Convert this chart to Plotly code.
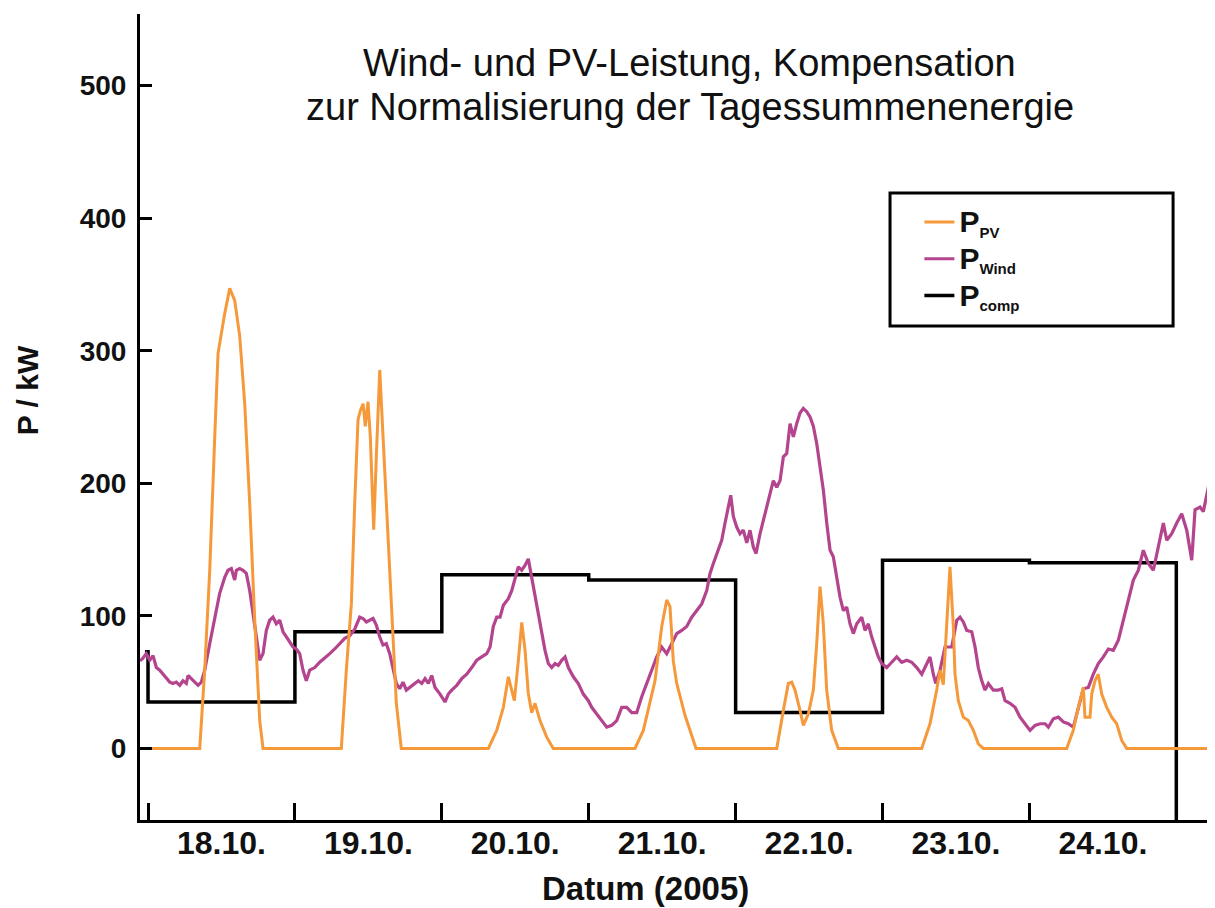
import plotly.graph_objects as go

# ---------------- data (hours since 18.10.2005 00:00, kW) ----------------
pv_hours = [-1.31, 8.45, 9.26, 10.08, 10.90, 11.44, 12.53, 13.35, 14.16, 14.98, 15.80, 16.61, 17.43, 18.25, 18.79,
            31.58, 32.40, 33.22, 33.77, 34.31, 34.70, 35.14, 35.50, 35.94, 36.32, 36.87, 37.30, 37.86, 38.40, 38.93, 39.75, 40.57, 41.38,
            55.60, 56.97, 58.05, 58.87, 59.85, 60.50, 61.06, 61.60, 62.13, 62.69, 63.22, 64.04, 65.14, 66.21,
            79.56, 80.92, 82.01, 82.83, 83.93, 84.74, 85.28, 85.82, 86.38, 87.73, 89.53,
            102.72, 103.80, 104.61, 105.17, 105.70, 106.52, 107.06, 107.88, 108.70, 109.25, 109.79, 110.33, 110.88, 111.70, 112.78,
            126.40, 127.76, 128.85, 129.39, 129.93, 130.49, 131.02, 131.57, 131.84, 132.38, 133.20, 134.02, 134.84, 135.65, 136.47,
            150.09, 151.17, 151.99, 152.81, 153.08, 153.90, 154.18, 154.71, 155.25, 155.81, 156.63, 157.45, 158.26, 159.08, 159.89,
            173.50, 174.32]
pv_kw = [0, 0, 59, 134, 235, 298, 328, 347, 338, 311, 260, 185, 97, 21, 0,
         0, 59, 109, 185, 248, 255, 260, 243, 261.5, 235, 165, 220, 285.5, 235, 185, 109, 34, 0,
         0, 13.6, 31, 54, 36, 66, 95, 74, 41.5, 27, 34, 21, 8.5, 0,
         0, 13.6, 36, 51, 92, 112, 107, 66, 49, 25, 0,
         0, 28.7, 49, 50, 44, 28.7, 17.4, 26, 44, 79, 122, 94, 44, 13.6, 0,
         0, 18.6, 44, 59, 48, 94, 137, 92, 56, 36, 23.6, 21, 13.6, 3.5, 0,
         0, 13.6, 31, 46, 23.6, 23.6, 41, 51, 56, 41, 31, 23.6, 18.6, 6, 0,
         0, 2]

wind_hours = [-1.31, -0.82, -0.28, 0.28, 0.82, 1.36, 1.91, 2.45, 2.99, 3.55, 4.08, 4.62, 5.18, 5.72, 6.26, 6.54, 7.07, 7.63,
              8.17, 8.71, 9.26, 10.08, 10.90, 11.71, 12.53, 13.07, 13.61, 14.16, 14.43, 14.98, 15.52, 16.06, 16.62, 17.15,
              17.69, 18.25, 18.79, 19.33, 19.88, 20.42, 20.96, 21.52, 22.06, 22.60, 23.15, 23.69, 24.23, 24.78, 25.32, 25.86,
              26.42, 27.24, 28.05, 28.87, 29.69, 30.50, 31.32, 32.14, 32.95, 33.77, 34.59, 35.13, 35.67, 36.22, 36.76, 37.30,
              37.86, 38.39, 38.93, 39.49, 40.03, 40.57, 41.12, 41.66, 42.20, 42.76,
              43.62, 44.16, 44.72, 45.26, 45.80, 46.35, 46.89, 47.71, 48.52, 49.06, 49.62, 50.44, 51.25, 52.07, 52.89, 53.70,
              54.52, 55.34, 55.88, 56.41, 56.97, 57.51, 58.05, 58.87, 59.42, 59.96, 60.50, 61.05, 61.59, 62.13, 62.69, 63.23,
              63.77, 64.32, 64.86, 65.40, 65.96, 66.50, 67.03, 67.59, 68.13, 68.67, 69.49, 70.30, 71.12, 71.94, 72.49, 73.31,
              74.12, 74.94, 75.76, 76.58, 77.39, 78.21, 79.03, 79.84, 80.66, 81.48, 82.29, 83.11, 83.93, 84.74, 85.56, 86.38,
              87.19, 88.01, 88.83, 89.65, 90.46, 91.28, 91.82, 92.36, 93.18, 93.73, 94.27, 94.81, 95.20, 95.63, 96.18, 96.72,
              97.26, 97.82, 98.35, 98.89, 99.34, 99.99, 100.81, 101.62, 102.16, 102.72, 103.26, 103.80, 104.35, 104.89, 105.43,
              105.98, 106.52, 107.06, 107.62, 108.16, 108.70, 109.25, 109.79, 110.33, 110.89, 111.43, 111.96, 112.52, 113.06,
              113.60, 114.15, 114.69, 115.23, 115.79, 116.60, 117.14, 117.68, 118.24, 118.78, 119.32, 119.87, 120.69, 121.50,
              122.32, 123.14, 123.96, 124.77, 125.59, 126.41, 127.22, 127.76, 128.30, 128.69, 129.40, 130.21, 131.31, 132.13,
              132.66, 133.20, 133.76, 134.57, 135.12, 135.65, 136.21, 136.75, 137.29, 138.10, 138.92, 139.48, 140.02, 140.83,
              141.65, 142.47, 143.28, 144.10, 144.92, 145.74, 146.55, 147.09, 147.91, 148.72, 149.54, 150.36, 151.18, 151.99,
              152.81, 153.63, 154.44, 155.26, 156.08, 156.89, 157.71, 158.53, 159.34, 160.16, 160.98, 161.80, 162.61, 163.43,
              164.25, 165.06, 165.88, 166.44, 167.25, 168.07, 168.88, 169.70, 170.52, 171.06, 171.87, 172.41, 173.23, 173.78,
              174.32]
wind_kw = [66, 68, 71.5, 66.5, 70, 61, 59, 56, 52.6, 50, 49, 50, 47.6, 51, 49, 55, 52.6, 50,
           47.6, 50, 59, 79, 96.7, 117, 129, 134.4, 135.7, 127, 134.4, 135.7, 134.4, 132, 119, 101.7,
           84, 66.5, 71.5, 89, 96.7, 99, 94, 96.7, 88, 84, 80, 76.5, 75, 71.5, 59, 51,
           59, 61, 65, 68, 71.5, 75, 79, 83, 85, 90, 99, 98, 95.4, 96.7, 98, 93,
           84, 78, 79, 71.5, 59, 49, 45, 50, 44, 46,
           49, 51, 49, 52.6, 49, 55, 46, 41, 35, 41, 44, 47.6, 52.6, 56, 61, 66.5,
           69, 71.5, 76.5, 92, 99, 99, 108, 113, 119, 127, 137, 134.4, 138, 143, 129, 114,
           99, 86.6, 74, 64, 61, 64, 62.7, 66.5, 69, 61, 54, 49, 41, 36, 31, 26,
           21, 16, 17.4, 21, 31, 31, 27, 27, 39, 49, 59, 69, 76.5, 71.5, 79, 86.6,
           89, 92, 99, 104, 109, 119, 132, 139.5, 149.5, 157, 170, 182, 191, 175, 167, 162,
           164.6, 155, 164.6, 152, 147, 162, 177, 192, 202, 197, 202, 220, 222.5, 245, 235,
           245, 253, 256.5, 254, 250, 243, 230, 212.5, 195, 170, 149.5, 144.5, 129, 114,
           104, 106.6, 94, 86.6, 94, 99, 89, 94, 84, 76.5, 69, 64, 61, 65,
           69, 65, 66.5, 65, 61, 56, 64, 69, 56, 49, 59, 76.5, 76.5, 96.7,
           99, 95.4, 89, 88, 76.5, 61, 51, 44, 49, 44, 44, 45, 36, 34,
           31, 23.6, 18.6, 13.6, 17.4, 18.6, 18.6, 16, 22.4, 23.6, 20, 18.6, 16, 31,
           45, 46, 56, 64, 69, 75, 74, 81.6, 96.7, 112, 127, 134.4, 149.5, 139.5,
           134.4, 152, 170, 157, 162, 170, 177, 164.6, 142, 180, 182, 178.6, 197, 202,
           210]

comp_hours = [-0.5, 0, 24, 48, 72, 96, 120, 144, 168]
comp_kw = [73, 35, 88, 131, 127, 27, 142, 140, -60]

day_hours = [0, 24, 48, 72, 96, 120, 144, 168]
label_hours = [12, 36, 60, 84, 108, 132, 156]
label_text = ["18.10.", "19.10.", "20.10.", "21.10.", "22.10.", "23.10.", "24.10."]
y_ticks = [0, 100, 200, 300, 400, 500]

FONT = "Liberation Sans, Arial, sans-serif"
C_PV = "#F5993A"
C_WIND = "#B3448D"


def legend_name(sub):
    return ("<b><span style='font-size:30px'>P</span><sub><span style='font-size:15px'>"
            + sub + "</span></sub></b>")


fig = go.Figure()
fig.add_trace(go.Scatter(x=comp_hours, y=comp_kw, mode="lines", line_shape="hv",
                         line=dict(color="black", width=3.5), legendrank=3,
                         name=legend_name("comp")))
fig.add_trace(go.Scatter(x=wind_hours, y=wind_kw, mode="lines",
                         line=dict(color=C_WIND, width=3.2), legendrank=2,
                         name=legend_name("Wind")))
fig.add_trace(go.Scatter(x=pv_hours, y=pv_kw, mode="lines",
                         line=dict(color=C_PV, width=3), legendrank=1,
                         name=legend_name("PV")))

# page body has an 8px margin, so the figure is 8px smaller than the window
fig.update_layout(
    width=1207, height=900,
    margin=dict(l=132, r=0, t=6, b=88),
    paper_bgcolor="white", plot_bgcolor="white",
    font=dict(family=FONT, color="#111111"),
    showlegend=True,
    legend=dict(x=0.725, y=0.771, xanchor="left", yanchor="top",
                bgcolor="rgba(0,0,0,0)", borderwidth=0,
                font=dict(family=FONT, size=26, color="#111111"),
                tracegroupgap=0, itemwidth=30),
    xaxis=dict(range=[-1.31, 174.32], tickmode="array", tickvals=label_hours, ticktext=label_text,
               ticks="", showgrid=False, zeroline=False,
               showline=True, linewidth=3, linecolor="black",
               tickfont=dict(family=FONT, size=32, color="#111111", weight="bold"),
               ticklabelstandoff=-7,
               minor=dict(tickmode="array", tickvals=day_hours, ticks="inside", ticklen=17,
                          tickwidth=3, tickcolor="black", showgrid=False)),
    yaxis=dict(range=[-54, 554], tickmode="array", tickvals=y_ticks,
               ticks="inside", ticklen=12, tickwidth=3, tickcolor="black",
               showgrid=False, zeroline=False,
               showline=True, linewidth=3, linecolor="black",
               tickfont=dict(family=FONT, size=28, color="#111111", weight="bold"),
               ticklabelstandoff=5),
    shapes=[dict(type="rect", xref="paper", yref="paper", x0=0.6977, x1=0.961, y0=0.613, y1=0.778,
                 line=dict(color="black", width=3), fillcolor="rgba(0,0,0,0)")],
    annotations=[
        dict(text="Wind- und PV-Leistung, Kompensation", xref="paper", yref="paper",
             x=0.5116, y=0.9392, xanchor="center", yanchor="middle", showarrow=False,
             font=dict(family=FONT, size=38, color="#111111")),
        dict(text="zur Normalisierung der Tagessummenenergie", xref="paper", yref="paper",
             x=0.5116, y=0.8843, xanchor="center", yanchor="middle", showarrow=False,
             font=dict(family=FONT, size=38, color="#111111")),
        dict(text="<b>P / kW</b>", xref="paper", yref="paper", x=-0.104, y=0.5335,
             xanchor="center", yanchor="middle", textangle=-90, showarrow=False,
             font=dict(family=FONT, size=30, color="#111111")),
        dict(text="<b>Datum (2005)</b>", xref="paper", yref="paper", x=0.47, y=-0.0844,
             xanchor="center", yanchor="middle", showarrow=False,
             font=dict(family=FONT, size=33, color="#111111")),
    ],
)

fig.write_html("out.html")
